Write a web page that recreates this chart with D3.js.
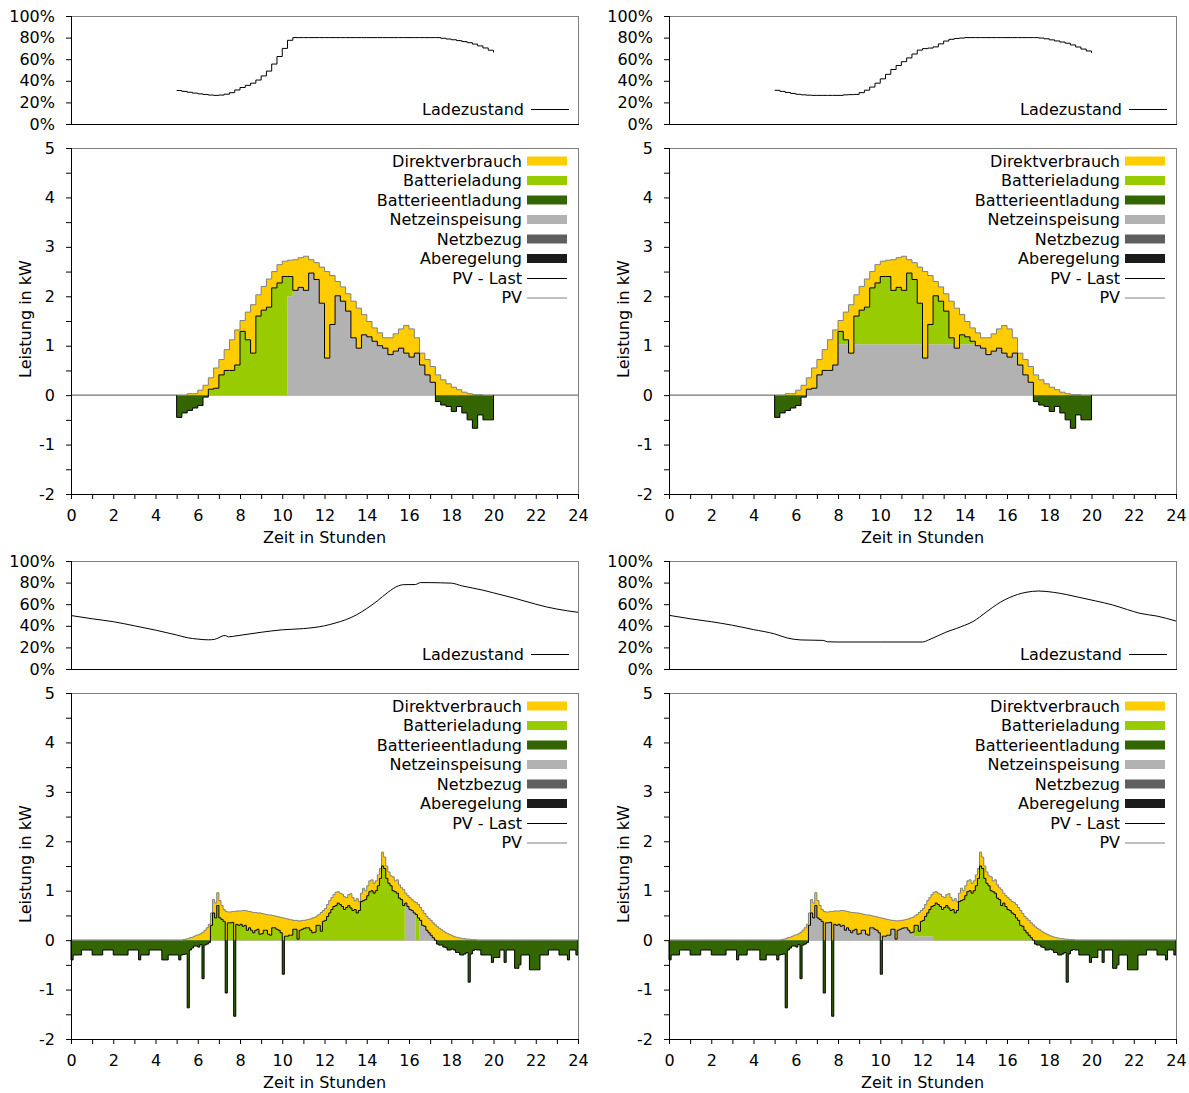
<!DOCTYPE html>
<html>
<head>
<meta charset="utf-8">
<script src="https://cdn.jsdelivr.net/npm/d3@7"></script>
<style>
body { margin: 0; background: #fff; }
svg text { font-family: "DejaVu Sans", Verdana, sans-serif; font-size: 16px; fill: #000; }
</style>
</head>
<body>
<script>
// ---------- sonniger Tag (obere Reihe): 15-Minuten-Werte ab 5:00 ----------
const obenStart = 5, obenSchritt = 0.25;
const pvOben = [
    0, 0, 0.03, 0.03, 0.1, 0.2, 0.35, 0.55, 0.72, 0.92,
    1.12, 1.32, 1.51, 1.68, 1.83, 2.03, 2.2, 2.35, 2.5, 2.64,
    2.71, 2.73, 2.74, 2.78, 2.81, 2.74, 2.68, 2.59, 2.5, 2.42,
    2.3, 2.19, 2.05, 1.9, 1.76, 1.63, 1.49, 1.36, 1.26, 1.16,
    1.16, 1.24, 1.34, 1.41, 1.34, 1.16, 0.85, 0.72, 0.58, 0.41,
    0.31, 0.23, 0.16, 0.11, 0.06, 0.03, 0.01, 0.01, 0, 0
];
const pvMinusLastOben = [
    -0.45, -0.36, -0.31, -0.26, -0.21, -0.04, 0.12, 0.14, 0.41, 0.5,
    0.5, 0.61, 1.29, 1.12, 0.85, 1.6, 1.72, 1.78, 2.17, 2.27,
    2.4, 2.4, 2.12, 2.18, 2.12, 2.47, 2.34, 1.86, 0.75, 1.43,
    2.01, 1.9, 1.7, 1.16, 0.95, 1.22, 1.18, 1.09, 1.0, 0.95,
    0.82, 0.89, 0.95, 0.85, 0.77, 0.85, 0.61, 0.41, 0.26, -0.13,
    -0.2, -0.23, -0.33, -0.23, -0.36, -0.5, -0.67, -0.4, -0.5, -0.5
];
// Ladezustand in %, 5:00 bis 20:00
const socObenLinks = [
    31.0, 30.2, 29.4, 28.6, 27.9, 27.3, 26.8, 26.5, 26.8, 27.6,
    29.0, 31.5, 33.8, 35.8, 37.8, 40.7, 44.5, 49.0, 55.5, 62.5,
    70.0, 77.5, 80, 80, 80, 80, 80, 80, 80, 80,
    80, 80, 80, 80, 80, 80, 80, 80, 80, 80,
    80, 80, 80, 80, 80, 80, 80, 80, 80, 80,
    79.4, 78.7, 78.0, 77.2, 76.3, 75.3, 74.0, 72.3, 70.4, 68.3,
    66.2
];
const socObenRechts = [
    31.2, 30.2, 29.2, 28.3, 27.5, 27.0, 26.7, 26.5, 26.5, 26.5,
    26.5, 26.5, 26.5, 27.0, 27.2, 27.4, 29.0, 31.3, 34.2, 37.8,
    41.8, 46.0, 50.5, 54.2, 57.7, 61.2, 64.8, 68.4, 69.8, 70.3,
    71.4, 74.2, 76.8, 78.4, 79.2, 79.6, 80, 80, 80, 80,
    80, 80, 80, 80, 80, 80, 80, 80, 80, 80,
    79.6, 78.9, 77.9, 76.9, 75.9, 74.8, 73.2, 71.3, 69.4, 67.6,
    65.8
];
// Einspeisung: [von, bis, Grenze in kW]
const einspeisungObenLinks = [[10.25, 10.5, 2.0], [10.5, 24, 9]];
const einspeisungObenRechts = [[0, 24, 1.03]];

// ---------- wechselhafter Tag (untere Reihe): 6-Minuten-Werte ab 0:00 ----------
const untenStart = 0, untenSchritt = 0.1;
const pvUnten = [
    0, 0, 0, 0, 0, 0, 0, 0, 0, 0,
    0, 0, 0, 0, 0, 0, 0, 0, 0, 0,
    0, 0, 0, 0, 0, 0, 0, 0, 0, 0,
    0, 0, 0, 0, 0, 0, 0, 0, 0, 0,
    0, 0, 0, 0, 0, 0, 0, 0, 0, 0,
    0, 0, 0, 0.01, 0.02, 0.03, 0.05, 0.06, 0.08, 0.1,
    0.11, 0.13, 0.16, 0.2, 0.25, 0.32, 0.55, 0.82, 0.75, 0.96,
    0.8, 0.7, 0.62, 0.58, 0.57, 0.57, 0.58, 0.58, 0.59, 0.59,
    0.59, 0.6, 0.6, 0.59, 0.58, 0.57, 0.56, 0.56, 0.55, 0.55,
    0.54, 0.53, 0.52, 0.51, 0.51, 0.5, 0.49, 0.48, 0.47, 0.46,
    0.45, 0.44, 0.43, 0.42, 0.41, 0.4, 0.4, 0.39, 0.39, 0.4,
    0.4, 0.41, 0.42, 0.43, 0.45, 0.46, 0.49, 0.52, 0.56, 0.6,
    0.64, 0.72, 0.8, 0.86, 0.92, 0.97, 0.98, 0.95, 0.93, 0.88,
    0.86, 0.92, 0.94, 0.86, 0.8, 0.84, 0.78, 0.95, 1.05, 1.0,
    1.1, 1.2, 1.22, 1.15, 1.2, 1.32, 1.45, 1.78, 1.68, 1.5,
    1.38, 1.3, 1.28, 1.2, 1.22, 1.12, 1.06, 1.02, 0.95, 0.9,
    0.86, 0.82, 0.78, 0.76, 0.72, 0.66, 0.6, 0.54, 0.48, 0.44,
    0.4, 0.35, 0.31, 0.27, 0.24, 0.21, 0.18, 0.15, 0.13, 0.11,
    0.09, 0.07, 0.06, 0.05, 0.04, 0.03, 0.03, 0.02, 0.02, 0.01,
    0.01, 0.01, 0, 0, 0, 0, 0, 0, 0, 0,
    0, 0, 0, 0, 0, 0, 0, 0, 0, 0,
    0, 0, 0, 0, 0, 0, 0, 0, 0, 0,
    0, 0, 0, 0, 0, 0, 0, 0, 0, 0,
    0, 0, 0, 0, 0, 0, 0, 0, 0, 0
];
const lastUnten = [
    0.4, 0.3, 0.3, 0.3, 0.3, 0.2, 0.2, 0.2, 0.2, 0.2,
    0.3, 0.3, 0.3, 0.3, 0.3, 0.2, 0.2, 0.2, 0.2, 0.2,
    0.3, 0.3, 0.3, 0.3, 0.3, 0.3, 0.3, 0.2, 0.2, 0.2,
    0.2, 0.2, 0.4, 0.3, 0.3, 0.3, 0.3, 0.2, 0.2, 0.2,
    0.2, 0.2, 0.2, 0.4, 0.4, 0.4, 0.3, 0.3, 0.3, 0.3,
    0.3, 0.4, 0.3, 0.3, 0.3, 1.4, 0.25, 0.22, 0.2, 0.22,
    0.25, 0.22, 0.94, 0.3, 0.33, 0.37, 0.25, 0.27, 0.3, 0.26,
    0.35, 0.28, 0.24, 1.65, 0.22, 0.22, 0.22, 2.12, 0.27, 0.29,
    0.27, 0.32, 0.3, 0.39, 0.33, 0.37, 0.41, 0.36, 0.33, 0.43,
    0.41, 0.33, 0.32, 0.39, 0.41, 0.25, 0.24, 0.26, 0.27, 0.31,
    1.14, 0.36, 0.35, 0.32, 0.31, 0.18, 0.18, 0.37, 0.19, 0.18,
    0.16, 0.16, 0.17, 0.23, 0.3, 0.3, 0.19, 0.22, 0.38, 0.22,
    0.24, 0.24, 0.25, 0.24, 0.24, 0.27, 0.23, 0.23, 0.25, 0.26,
    0.2, 0.22, 0.29, 0.26, 0.18, 0.29, 0.18, 0.17, 0.25, 0.18,
    0.2, 0.22, 0.22, 0.2, 0.2, 0.22, 0.2, 0.28, 0.23, 0.25,
    0.23, 0.2, 0.28, 0.22, 0.27, 0.27, 0.24, 0.32, 0.2, 0.22,
    0.24, 0.22, 0.23, 0.24, 0.27, 0.26, 0.3, 0.26, 0.28, 0.29,
    0.3, 0.3, 0.31, 0.35, 0.34, 0.31, 0.32, 0.3, 0.33, 0.31,
    0.27, 0.27, 0.31, 0.3, 0.34, 0.33, 0.31, 0.27, 0.87, 0.29,
    0.22, 0.2, 0.2, 0.2, 0.3, 0.3, 0.3, 0.3, 0.3, 0.45,
    0.35, 0.35, 0.35, 0.2, 0.2, 0.45, 0.2, 0.2, 0.2, 0.2,
    0.57, 0.57, 0.5, 0.3, 0.3, 0.3, 0.3, 0.6, 0.6, 0.6,
    0.6, 0.6, 0.3, 0.3, 0.3, 0.3, 0.2, 0.2, 0.2, 0.2,
    0.2, 0.3, 0.3, 0.3, 0.3, 0.4, 0.2, 0.2, 0.2, 0.3
];
// Ladezustand unten: Stunden und Prozent
const socUntenLinksH = [0, 1, 2, 3, 4, 5, 5.5, 6, 6.5, 6.8, 7.0, 7.2, 7.3, 7.45, 7.7, 8, 9, 10, 11, 12, 12.5, 13, 13.5, 14, 14.5, 15, 15.5, 15.75, 16.3, 16.55, 17, 17.5, 18, 18.5, 19, 19.5, 20, 21, 22, 22.5, 23, 24];
const socUntenLinks = [49.5, 46.5, 43.8, 40, 36, 31.5, 29, 27.7, 27, 27.5, 29, 30.8, 31, 29.8, 30.3, 31.2, 34, 36.3, 37.4, 40, 42.5, 45.6, 50, 56, 63, 71, 77, 78.1, 78.2, 80, 80, 79.8, 79.5, 77, 75, 73, 70.5, 65.5, 60, 57.5, 55.5, 52.5];
const socUntenRechtsH = [0, 1, 2, 3, 4, 5, 5.6, 6.25, 7.3, 7.5, 8, 10, 12, 12.3, 12.7, 13.1, 13.6, 14.0, 14.4, 14.7, 15.0, 15.3, 15.7, 16.1, 16.5, 16.9, 17.5, 18.2, 18.8, 19.4, 20.2, 21, 21.7, 22.3, 23.1, 24];
const socUntenRechts = [49.7, 46.5, 43.8, 40.5, 36.5, 32.5, 28.7, 26.9, 26.5, 25.2, 25, 25, 25, 27, 30.5, 34, 37.5, 40.5, 44, 48, 52.5, 56.8, 62, 66, 69, 71, 72.2, 71, 69, 66.4, 63, 59.3, 55, 51.5, 49, 44.4];
const einspeisungUntenLinks = [[15.8, 16.3, 9], [16.5, 17.3, 9]];
const einspeisungUntenRechts = [[0, 11.6, 9], [11.6, 12.5, 0.08]];

// ---------- Legende ----------
const legendeFlaechen = [
    ["Direktverbrauch", "#ffcc00"],
    ["Batterieladung", "#99cc00"],
    ["Batterieentladung", "#336600"],
    ["Netzeinspeisung", "#b2b2b2"],
    ["Netzbezug", "#5f5f5f"],
    ["Aberegelung", "#1c1c1c"]
];
const legendeLinien = [["PV - Last", "#000"], ["PV", "#808080"]];

const breite = 507, socHoehe = 108, powHoehe = 346;

const svg = d3.select("body").append("svg")
    .attr("width", 1189)
    .attr("height", 1093);

// Zeitreihen in Zeilen mit Aufteilung umrechnen
function baueZeilen(start, schritt, pv, pvl, einsp) {
    const zeilen = pv.map(function(v, i) {
        const t = start + i * schritt;
        let grenze = 0;
        einsp.forEach(function(s) {
            if (t >= s[0] - 1e-9 && t < s[1] - 1e-9) grenze = s[2];
        });
        const pos = Math.max(pvl[i], 0);
        const feed = Math.min(pos, grenze);
        return {t: t, pv: v, pvl: pvl[i], feed: feed, charge: pos - feed, dis: Math.min(pvl[i], 0)};
    });
    const leer = function(t) { return {t: t, pv: 0, pvl: 0, feed: 0, charge: 0, dis: 0}; };
    const ende = start + pv.length * schritt;
    return [leer(start)].concat(zeilen, [leer(ende)]);
}

function zeichnePanel(p) {
    const x = d3.scaleLinear().domain([0, 24]).range([p.x0, p.x0 + breite]);
    const yS = d3.scaleLinear().domain([0, 100]).range([p.socTop + socHoehe, p.socTop]);
    const yP = d3.scaleLinear().domain([-2, 5]).range([p.powTop + powHoehe, p.powTop]);

    // --- Ladezustand ---
    const gS = svg.append("g");
    const socLinie = d3.line()
        .x(function(d) { return x(d[0]); })
        .y(function(d) { return yS(d[1]); })
        .curve(p.socStufen ? d3.curveStepAfter : d3.curveMonotoneX);
    gS.append("path")
        .datum(p.socH.map(function(h, i) { return [h, p.soc[i]]; }))
        .attr("d", socLinie)
        .attr("fill", "none")
        .attr("stroke", "#000")
        .attr("stroke-width", 1);

    const achseSoc = gS.append("g")
        .attr("transform", "translate(" + p.x0 + ",0)")
        .call(d3.axisLeft(yS).tickValues([0, 20, 40, 60, 80, 100])
            .tickFormat(function(d) { return d + "%"; })
            .tickSize(5).tickPadding(11));
    rahmen(gS, p.x0, p.socTop, socHoehe);

    gS.append("text")
        .attr("x", p.x0 + 453)
        .attr("y", p.socTop + 93)
        .attr("dy", "0.35em")
        .attr("text-anchor", "end")
        .text("Ladezustand");
    gS.append("line")
        .attr("x1", p.x0 + 460).attr("x2", p.x0 + 498)
        .attr("y1", p.socTop + 93.5).attr("y2", p.socTop + 93.5)
        .attr("stroke", "#000").attr("stroke-width", 1);

    // --- Leistung ---
    const g = svg.append("g");
    g.append("line")
        .attr("x1", x(0)).attr("x2", x(24))
        .attr("y1", yP(0)).attr("y2", yP(0))
        .attr("stroke", "#999").attr("stroke-width", 1);

    function flaeche(f0, f1, farbe) {
        g.append("path")
            .datum(p.zeilen)
            .attr("d", d3.area()
                .x(function(d) { return x(d.t); })
                .y0(function(d) { return yP(f0(d)); })
                .y1(function(d) { return yP(f1(d)); })
                .curve(d3.curveStepAfter))
            .attr("fill", farbe);
    }
    flaeche(function(d) { return Math.max(d.pvl, 0); }, function(d) { return d.pv; }, "#ffcc00");
    flaeche(function() { return 0; }, function(d) { return d.feed; }, "#b2b2b2");
    flaeche(function(d) { return d.feed; }, function(d) { return d.feed + d.charge; }, "#99cc00");
    flaeche(function() { return 0; }, function(d) { return d.dis; }, "#336600");

    const pvDaten = [{t: 0, pv: 0}].concat(p.zeilen, [{t: 24, pv: 0}]);
    g.append("path")
        .datum(pvDaten)
        .attr("d", d3.line()
            .x(function(d) { return x(d.t); })
            .y(function(d) { return yP(d.pv); })
            .curve(d3.curveStepAfter))
        .attr("fill", "none")
        .attr("stroke", "#808080")
        .attr("stroke-width", 1);
    g.append("path")
        .datum(p.zeilen)
        .attr("d", d3.line()
            .x(function(d) { return x(d.t); })
            .y(function(d) { return yP(d.pvl); })
            .curve(d3.curveStepAfter))
        .attr("fill", "none")
        .attr("stroke", "#000")
        .attr("stroke-width", 1);

    g.append("g")
        .attr("transform", "translate(" + p.x0 + ",0)")
        .call(d3.axisLeft(yP).tickValues(d3.range(-2, 5.01, 0.5))
            .tickFormat(function(d) { return Number.isInteger(d) ? d : ""; })
            .tickSize(5).tickPadding(11));
    g.append("g")
        .attr("transform", "translate(0," + (p.powTop + powHoehe) + ")")
        .call(d3.axisBottom(x).tickValues(d3.range(0, 25))
            .tickFormat(function(d) { return d % 2 === 0 ? d : ""; })
            .tickSize(5).tickPadding(11));
    rahmen(g, p.x0, p.powTop, powHoehe);

    g.append("text")
        .attr("x", p.x0 + breite / 2)
        .attr("y", p.powTop + powHoehe + 49)
        .attr("text-anchor", "middle")
        .text("Zeit in Stunden");
    g.append("text")
        .attr("transform", "translate(" + (p.x0 - 46) + "," + (p.powTop + powHoehe / 2 - 2) + ") rotate(-90)")
        .attr("dy", "0.35em")
        .attr("text-anchor", "middle")
        .text("Leistung in kW");

    // Legende
    const lx = p.x0 + breite - 56;
    legendeFlaechen.forEach(function(e, i) {
        const ly = p.powTop + 13 + i * 19.5;
        g.append("text").attr("x", lx).attr("y", ly).attr("dy", "0.35em")
            .attr("text-anchor", "end").text(e[0]);
        g.append("rect").attr("x", lx + 5).attr("y", ly - 4.5)
            .attr("width", 40).attr("height", 9).attr("fill", e[1]);
    });
    legendeLinien.forEach(function(e, i) {
        const ly = p.powTop + 13 + (i + 6) * 19.5;
        g.append("text").attr("x", lx).attr("y", ly).attr("dy", "0.35em")
            .attr("text-anchor", "end").text(e[0]);
        g.append("line").attr("x1", lx + 5).attr("x2", lx + 45)
            .attr("y1", ly + 0.5).attr("y2", ly + 0.5)
            .attr("stroke", e[1]).attr("stroke-width", 1);
    });

    svg.selectAll(".domain").remove();
    svg.selectAll(".tick line").attr("stroke", "#000");
    svg.selectAll(".tick text")
        .attr("font-size", null)
        .style("font-family", "'DejaVu Sans', Verdana, sans-serif")
        .style("font-size", "16px");
}

function rahmen(g, x0, top, hoehe) {
    g.append("line").attr("x1", x0 + 0.5).attr("x2", x0 + breite + 0.5)
        .attr("y1", top + 0.5).attr("y2", top + 0.5).attr("stroke", "#808080");
    g.append("line").attr("x1", x0 + breite + 0.5).attr("x2", x0 + breite + 0.5)
        .attr("y1", top).attr("y2", top + hoehe).attr("stroke", "#808080");
    g.append("line").attr("x1", x0 + 0.5).attr("x2", x0 + 0.5)
        .attr("y1", top).attr("y2", top + hoehe + 0.5).attr("stroke", "#000");
    g.append("line").attr("x1", x0).attr("x2", x0 + breite + 1)
        .attr("y1", top + hoehe + 0.5).attr("y2", top + hoehe + 0.5).attr("stroke", "#000");
}

const obenStunden = socObenLinks.map(function(_, i) { return obenStart + i * obenSchritt; });

const panels = [
    {x0: 71, socTop: 16, powTop: 148, socStufen: true, socH: obenStunden, soc: socObenLinks,
     zeilen: baueZeilen(obenStart, obenSchritt, pvOben, pvMinusLastOben, einspeisungObenLinks)},
    {x0: 669, socTop: 16, powTop: 148, socStufen: true, socH: obenStunden, soc: socObenRechts,
     zeilen: baueZeilen(obenStart, obenSchritt, pvOben, pvMinusLastOben, einspeisungObenRechts)},
    {x0: 71, socTop: 561, powTop: 693, socStufen: false, socH: socUntenLinksH, soc: socUntenLinks,
     zeilen: baueZeilen(untenStart, untenSchritt, pvUnten,
        pvUnten.map(function(v, i) { return +(v - lastUnten[i]).toFixed(3); }), einspeisungUntenLinks)},
    {x0: 669, socTop: 561, powTop: 693, socStufen: false, socH: socUntenRechtsH, soc: socUntenRechts,
     zeilen: baueZeilen(untenStart, untenSchritt, pvUnten,
        pvUnten.map(function(v, i) { return +(v - lastUnten[i]).toFixed(3); }), einspeisungUntenRechts)}
];

panels.forEach(zeichnePanel);
</script>
</body>
</html>
